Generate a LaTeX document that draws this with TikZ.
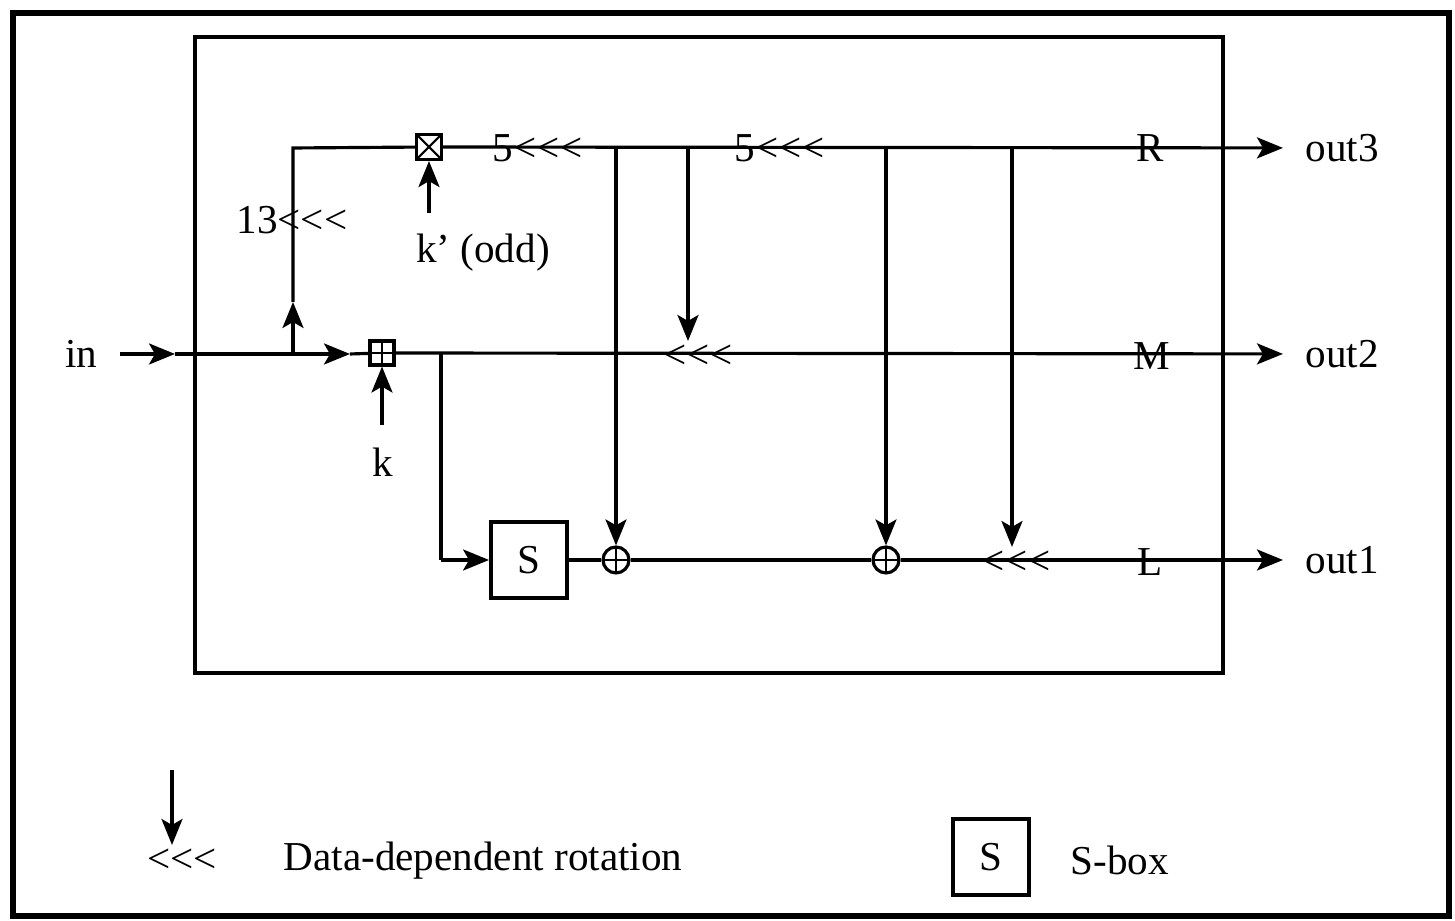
\documentclass[tikz,border=0pt]{standalone}
\usepackage{fontspec}
\setmainfont{Liberation Serif}[Ligatures=TeXOff]
\usetikzlibrary{positioning, arrows.meta, calc}

\tikzset{
  wire/.style={line width=0.9pt},
  arr/.style={wire, -{Stealth[length=2.6mm,width=2.1mm,inset=0.6mm]}},
  lbl/.style={font=\fontsize{11.7}{14}\selectfont, inner sep=1pt},
  port/.style={lbl, inner xsep=2.2mm},
  sbox/.style={draw, line width=1.1pt, minimum size=7.6mm, inner sep=0pt,
               font=\fontsize{11.7}{14}\selectfont},
  boxadd/.style={draw, wire, minimum size=2.4mm, inner sep=0pt,
                 path picture={\draw[line width=0.6pt]
                   (path picture bounding box.north) -- (path picture bounding box.south)
                   (path picture bounding box.west) -- (path picture bounding box.east);}},
  boxmul/.style={draw, wire, minimum size=2.5mm, inner sep=0pt,
                 path picture={\draw[line width=0.6pt]
                   (path picture bounding box.north west) -- (path picture bounding box.south east)
                   (path picture bounding box.south west) -- (path picture bounding box.north east);}},
  xorop/.style={circle, draw, wire, minimum size=2.6mm, inner sep=0pt,
                path picture={\draw[line width=0.6pt]
                  (path picture bounding box.north) -- (path picture bounding box.south)
                  (path picture bounding box.west) -- (path picture bounding box.east);}}
}

\begin{document}
\begin{tikzpicture}[x=0.1mm, y=-0.1mm]
  \useasboundingbox (0,0) rectangle (1455,921);
  \draw[line width=1.6pt] (13,13) rectangle (1449,916);
  \draw[wire] (195,37) rectangle (1223,673);

  % operators
  \node[boxmul] (mul) at (429,147) {};
  \node[boxadd] (add) at (382,353) {};
  \node[sbox]   (s)   at (529,560) {S};
  \node[xorop]  (x1)  at (616,560) {};
  \node[xorop]  (x2)  at (886,560) {};
  \node[lbl] (rot1) at (698,357) {<<<};
  \node[lbl] (rot2) at (1016,563) {<<<};

  % labels
  \node[port,anchor=east] (in)   at (120,354)  {in};
  \node[port,anchor=west] (out3) at (1283,148) {out3};
  \node[port,anchor=west] (out2) at (1283,354) {out2};
  \node[port,anchor=west] (out1) at (1283,560) {out1};
  \node[lbl] (sh13) at (292,220) {13<<<};
  \node[lbl] (sh5a) at (538,148) {5<<<};
  \node[lbl] (sh5b) at (780,148) {5<<<};
  \node[lbl] (kodd) at (483,253) {k’ (odd)};
  \node[lbl] (kl)   at (383,462) {k};
  \node[lbl] (R) at (1150,148) {R};
  \node[lbl] (M) at (1152,356) {M};
  \node[lbl] (L) at (1150,562) {L};

  \coordinate (a1) at (175,354);
  \coordinate (br) at (293,354);
  \coordinate (a2) at (350,354);
  \coordinate (up) at (293,302);
  \coordinate (tl) at (293,148);
  \coordinate (kq) at (429,213);
  \coordinate (kk) at (382,425);
  \coordinate (dn) at (441,354);
  \coordinate (dl) at (441,560);
  \coordinate (t1) at (616,148);
  \coordinate (t2) at (688,148);
  \coordinate (t3) at (886,148);
  \coordinate (t4) at (1012,148);

  % wires
  \draw[arr] (in) -- (a1);
  \draw[wire] (a1) -- (br);
  \draw[arr] (br) -- (a2);
  \draw[wire] (a2) -- (add);
  \draw[arr] (br) -- (up);
  \draw[wire] (up) -- (tl) -- (mul);
  \draw[arr] (kq) -- (mul);
  \draw[arr] (kk) -- (add);
  \draw[arr] (mul) -- (out3);
  \draw[arr] (add) -- (out2);
  \draw[wire] (dn) -- (dl);
  \draw[arr] (dl) -- (s);
  \draw[wire] (s) -- (x1) -- (x2);
  \draw[arr] (x2) -- (out1);
  \draw[arr] (t1) -- (x1);
  \draw[arr] (t2) -- (t2 |- rot1.north);
  \draw[arr] (t3) -- (x2);
  \draw[arr] (t4) -- (t4 |- rot2.north);

  % legend
  \coordinate (lg) at (172,770);
  \node[lbl] (lrot) at (182,861) {<<<};
  \draw[arr] (lg) -- (lg |- lrot.north);
  \node[lbl] (ltxt) at (483,861) {Data-dependent rotation};
  \node[sbox] (ls) at (991,857) {S};
  \node[lbl] (lsb) at (1120,860) {S-box};
\end{tikzpicture}
\end{document}
